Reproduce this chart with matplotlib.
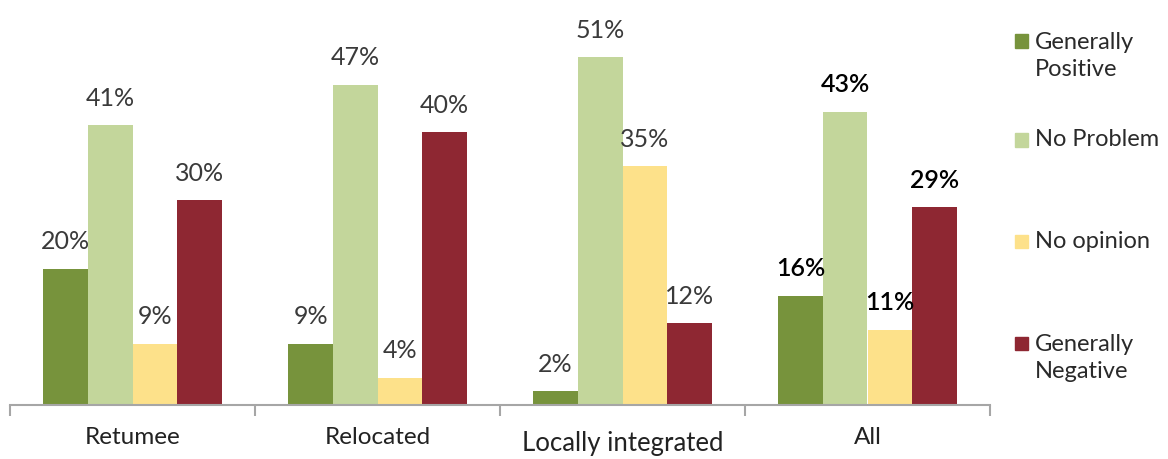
import matplotlib
matplotlib.use("Agg")
import matplotlib.pyplot as plt
import numpy as np
from matplotlib.patches import Rectangle
from matplotlib.transforms import blended_transform_factory

plt.rcParams['font.family'] = ['Lato', 'DejaVu Sans']

categories = ["Retumee", "Relocated", "Locally integrated", "All"]
series = ["Generally\nPositive", "No Problem", "No opinion", "Generally\nNegative"]
positive = [20, 9, 2, 16]
no_problem = [41, 47, 51, 43]
no_opinion = [9, 4, 35, 11]
negative = [30, 40, 12, 29]
colors = ["#77933C", "#C3D69B", "#FDE18A", "#8E2732"]

values = [positive, no_problem, no_opinion, negative]

W, H = 1168, 459
fig = plt.figure(figsize=(W / 100, H / 100), dpi=100)
ax = fig.add_axes([10 / W, (H - 405) / H, 980 / W, 405 / H])

n = len(categories)
x = np.arange(n)
bw = 0.182
offsets = (np.arange(4) - 1.5) * bw

for i, (vals, col) in enumerate(zip(values, colors)):
    bars = ax.bar(x + offsets[i], vals, width=bw, color=col, edgecolor='none')
    for j, (b, v) in enumerate(zip(bars, vals)):
        last = (j == n - 1)
        ax.annotate(f"{v}%", (b.get_x() + b.get_width() / 2, v),
                    xytext=(0, 27), textcoords='offset pixels',
                    ha='center', va='center', fontsize=18,
                    color='#000000' if last else '#3a3a3a',
                    fontweight='semibold' if last else 'normal')

ax.set_xlim(-0.5, n - 0.5)
ax.set_ylim(0, 59.4)
for s in ['top', 'right', 'left']:
    ax.spines[s].set_visible(False)
ax.spines['bottom'].set_color('#A6A6A6')
ax.spines['bottom'].set_linewidth(1.5)
ax.set_yticks([])
ax.set_xticks(np.arange(n + 1) - 0.5)
ax.set_xticklabels([])
ax.tick_params(axis='x', length=8, width=1.5, color='#A6A6A6')

trans = blended_transform_factory(ax.transData, fig.transFigure)
for j, c in enumerate(categories):
    if c == "Locally integrated":
        ax.text(j, (H - 443) / H, c, transform=trans, ha='center', va='center',
                fontsize=18.5, color='#222222')
    else:
        ax.text(j, (H - 437) / H, c, transform=trans, ha='center', va='center',
                fontsize=17.5, color='#222222')

# legend
legend_y = [41, 140, 241, 343]
for lbl, col, yc in zip(series, colors, legend_y):
    sq = 13
    fig.patches.append(Rectangle((1015 / W, (H - yc - sq / 2) / H), sq / W, sq / H,
                                 transform=fig.transFigure, color=col, figure=fig))
    nlines = lbl.count("\n") + 1
    yt = yc + (nlines - 1) * 15
    fig.text(1035 / W, (H - yt) / H, lbl, ha='left', va='center',
             fontsize=17, color='#2a2a2a', linespacing=1.3)

fig.savefig("out.png", dpi=100)
